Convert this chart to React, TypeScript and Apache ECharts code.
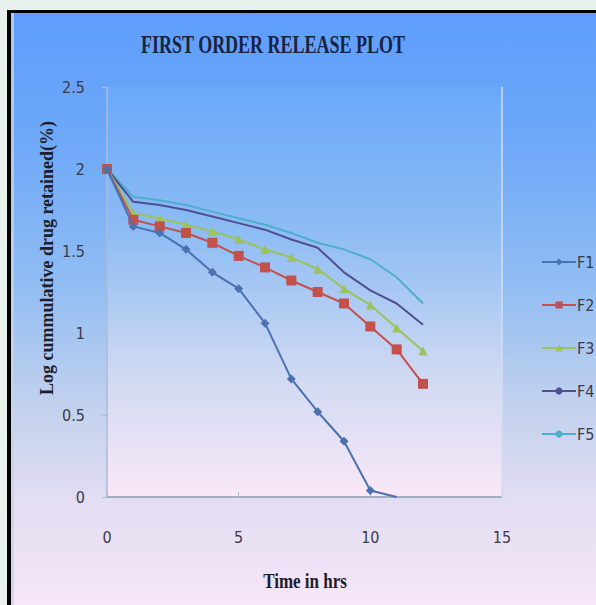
import React, { useEffect, useRef } from "react";
import * as echarts from "echarts";

const timeHrs = [0, 1, 2, 3, 4, 5, 6, 7, 8, 9, 10, 11, 12];
const f1 = [2.0, 1.65, 1.61, 1.51, 1.37, 1.27, 1.06, 0.72, 0.52, 0.34, 0.04, 0];
const f2 = [2.0, 1.69, 1.65, 1.61, 1.55, 1.47, 1.4, 1.32, 1.25, 1.18, 1.04, 0.9, 0.69];
const f3 = [2.0, 1.73, 1.7, 1.66, 1.62, 1.57, 1.51, 1.46, 1.39, 1.27, 1.17, 1.03, 0.89];
const f4 = [2.0, 1.8, 1.78, 1.75, 1.71, 1.67, 1.63, 1.57, 1.52, 1.37, 1.26, 1.18, 1.05];
const f5 = [2.0, 1.83, 1.81, 1.78, 1.74, 1.7, 1.66, 1.61, 1.55, 1.51, 1.45, 1.34, 1.18];
const seriesNames = ["F1", "F2", "F3", "F4", "F5"];
const xTicks = [0, 5, 10, 15];
const yTicks = [0, 0.5, 1, 1.5, 2, 2.5];

const pair = (vals: number[]) => vals.map((v, i) => [timeHrs[i], v]);

export default function App() {
  const ref = useRef<HTMLDivElement>(null);
  useEffect(() => {
    if (!ref.current) return;
    const chart = echarts.init(ref.current, undefined, { renderer: "svg" });
    const sansNarrow = "'Liberation Sans Narrow', 'DejaVu Sans Condensed', 'Liberation Sans', sans-serif";
    const serif = "'Liberation Serif', 'DejaVu Serif', serif";
    const f1Data: any[] = pair(f1).map((p, i, arr) =>
      i === arr.length - 1 && p[1] === 0 ? { value: p, symbol: "none" } : p
    );
    chart.setOption({
      animation: false,
      backgroundColor: "transparent",
      grid: {
        left: 107,
        right: 94,
        top: 87,
        bottom: 108,
        show: true,
        borderWidth: 0,
        backgroundColor: {
          type: "linear",
          x: 0,
          y: 0,
          x2: 0,
          y2: 1,
          colorStops: [
            { offset: 0, color: "#6aa8f8" },
            { offset: 0.35, color: "#8dbcf4" },
            { offset: 0.7, color: "#cfd9f2" },
            { offset: 1, color: "#fae8f8" },
          ],
        },
      },
      graphic: [
        {
          type: "line",
          shape: { x1: 502, y1: 87, x2: 502, y2: 497 },
          style: { stroke: "#d3deef", lineWidth: 1.5 },
          z: 1,
        },
        {
          type: "text",
          x: 273,
          y: 45,
          scaleX: 0.72,
          style: {
            text: "FIRST ORDER RELEASE PLOT",
            font: `bold 25px ${serif}`,
            fill: "#18233f",
            textAlign: "center",
            textVerticalAlign: "middle",
          },
          z: 10,
        },
        {
          type: "text",
          x: 305,
          y: 581,
          scaleX: 0.85,
          style: {
            text: "Time in hrs",
            font: `bold 20px ${serif}`,
            fill: "#1e1e2a",
            textAlign: "center",
            textVerticalAlign: "middle",
          },
          z: 10,
        },
        {
          type: "text",
          x: 47,
          y: 258,
          rotation: Math.PI / 2,
          style: {
            text: "Log cummulative drug retained(%)",
            font: `bold 18px ${serif}`,
            fill: "#1e1e2a",
            textAlign: "center",
            textVerticalAlign: "middle",
          },
          z: 10,
        },
      ],
      legend: {
        orient: "vertical",
        left: 536,
        top: 249,
        itemWidth: 34,
        itemHeight: 9,
        itemGap: 27,
        data: seriesNames,
        textStyle: { fontFamily: sansNarrow, fontSize: 16, color: "#3a3a48", padding: [0, 0, 0, -4] },
      },
      xAxis: {
        type: "value",
        min: 0,
        max: 15,
        interval: 5,
        axisLine: { show: true, onZero: false, lineStyle: { color: "#8f9cb0", width: 1.5 } },
        axisTick: { show: true, inside: true, length: 5, lineStyle: { color: "#b0bccc" } },
        splitLine: { show: false },
        axisLabel: {
          margin: 32,
          fontFamily: sansNarrow,
          fontSize: 16,
          color: "#3a3a48",
          customValues: xTicks,
        },
      },
      yAxis: {
        type: "value",
        min: 0,
        max: 2.5,
        interval: 0.5,
        axisLine: { show: true, onZero: false, lineStyle: { color: "#a8bcd6", width: 1.5 } },
        axisTick: { show: true, length: 5, lineStyle: { color: "#b0bccc" } },
        splitLine: { show: false },
        axisLabel: {
          margin: 22,
          fontFamily: sansNarrow,
          fontSize: 16,
          color: "#3a3a48",
          customValues: yTicks,
        },
      },
      series: [
        {
          name: "F1",
          type: "line",
          data: f1Data,
          symbol: "diamond",
          symbolSize: 9,
          itemStyle: { color: "#4a72b0" },
          lineStyle: { color: "#4a72b0", width: 2 },
          z: 6,
        },
        {
          name: "F2",
          type: "line",
          data: pair(f2),
          symbol: "rect",
          symbolSize: 10,
          itemStyle: { color: "#c4504c" },
          lineStyle: { color: "#c4504c", width: 2 },
          z: 5,
        },
        {
          name: "F3",
          type: "line",
          data: pair(f3),
          symbol: "triangle",
          symbolSize: 9,
          itemStyle: { color: "#9bc35a" },
          lineStyle: { color: "#9bc35a", width: 2 },
          z: 4,
        },
        {
          name: "F4",
          type: "line",
          data: pair(f4),
          symbol: "none",
          itemStyle: { color: "#4f4f92" },
          lineStyle: { color: "#4f4f92", width: 2 },
          z: 3,
        },
        {
          name: "F5",
          type: "line",
          data: pair(f5),
          symbol: "none",
          itemStyle: { color: "#4cb0cc" },
          lineStyle: { color: "#4cb0cc", width: 2 },
          z: 2,
        },
      ],
    });
    return () => chart.dispose();
  }, []);

  return (
    <div style={{ position: "absolute", left: 0, top: 0, width: 596, height: 605, background: "#e9f1ec", overflow: "hidden" }}>
      <div style={{ position: "absolute", left: 7, top: 10, width: 589, height: 595, background: "#000" }} />
      <div
        style={{
          position: "absolute",
          left: 11,
          top: 13,
          width: 585,
          height: 592,
          background:
            "linear-gradient(to bottom, #5e9dfc 0%, #6ca7f9 20%, #8fbcf3 45%, #bfd0ee 65%, #e2ddf2 82%, #f6e6f8 100%)",
        }}
      />
      <div style={{ position: "absolute", left: 11, top: 13, width: 3, height: 592, background: "#c9d3e2", opacity: 0.8 }} />
      <div ref={ref} style={{ position: "absolute", left: 0, top: 0, width: 596, height: 605 }} />
    </div>
  );
}
